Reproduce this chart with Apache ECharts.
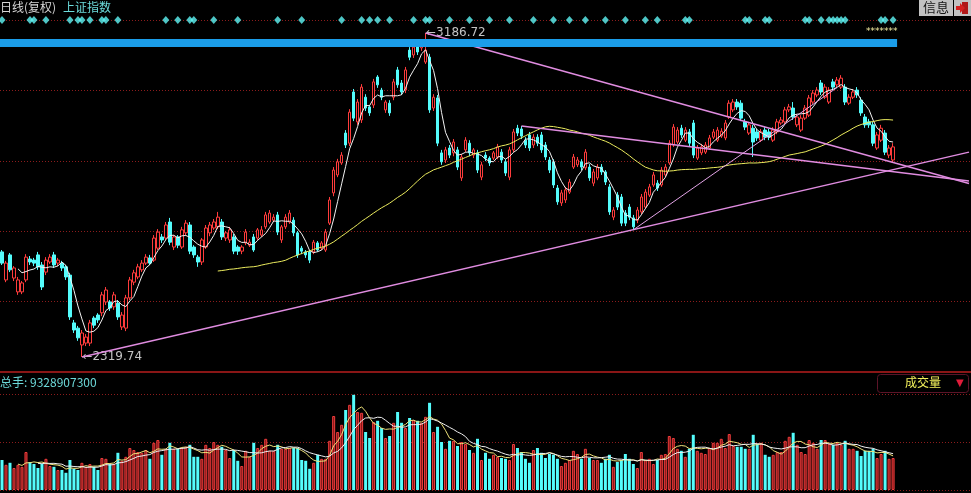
<!DOCTYPE html>
<html>
<head>
<meta charset="utf-8">
<script src="https://cdn.jsdelivr.net/npm/echarts@6/dist/echarts.min.js"></script>
<style>
  html, body { margin: 0; padding: 0; background: #000; }
  #chart { width: 971px; height: 493px; }
</style>
</head>
<body>
<div id="chart"></div>
<script>
// 上证指数 daily candles, 2010-06-01 .. 2011-05-06: [open, close, low, high]
const candles = [
  [2601,2571,2566,2606],[2526,2571,2520,2577],[2593,2553,2547,2598],[2531,2558,2523,2563],[2494,2526,2486,2534],
  [2494,2518,2488,2523],[2526,2587,2520,2595],[2582,2574,2566,2590],[2579,2571,2563,2585],[2593,2561,2553,2601],
  [2566,2507,2499,2574],[2547,2579,2539,2587],[2574,2587,2569,2595],[2593,2566,2558,2601],[2571,2579,2563,2585],
  [2571,2558,2550,2577],[2561,2534,2526,2566],[2539,2427,2419,2545],[2411,2392,2384,2419],[2397,2371,2363,2403],
  [2352,2384,2319.74,2392],[2357,2373,2349,2381],[2357,2411,2349,2419],[2424,2405,2397,2429],[2432,2419,2411,2437],
  [2438,2486,2429,2494],[2467,2499,2459,2507],[2467,2451,2443,2472],[2454,2486,2446,2494],[2464,2427,2419,2472],
  [2400,2432,2392,2440],[2397,2478,2389,2486],[2478,2526,2472,2534],[2520,2545,2512,2553],[2534,2561,2528,2569],
  [2553,2571,2547,2579],[2571,2587,2566,2595],[2585,2571,2566,2593],[2579,2638,2574,2646],[2611,2654,2606,2662],
  [2641,2633,2625,2649],[2638,2673,2633,2681],[2681,2627,2619,2692],[2614,2641,2606,2646],[2641,2619,2611,2646],
  [2614,2660,2609,2668],[2652,2678,2646,2686],[2673,2603,2595,2681],[2614,2593,2585,2619],[2587,2574,2561,2593],
  [2574,2633,2566,2638],[2614,2665,2609,2673],[2652,2673,2643,2681],[2665,2681,2660,2689],[2668,2694,2662,2708],
  [2681,2641,2633,2689],[2638,2652,2630,2657],[2633,2660,2625,2668],[2641,2603,2595,2649],[2614,2603,2593,2619],
  [2603,2614,2595,2619],[2625,2654,2619,2662],[2619,2627,2614,2635],[2641,2606,2601,2649],[2638,2660,2633,2665],
  [2646,2660,2641,2670],[2668,2700,2662,2708],[2681,2705,2676,2713],[2686,2694,2681,2702],[2700,2654,2646,2708],
  [2633,2668,2625,2673],[2668,2694,2662,2702],[2681,2705,2676,2713],[2686,2652,2643,2694],[2652,2593,2585,2657],
  [2611,2603,2595,2617],[2601,2593,2585,2606],[2601,2579,2571,2606],[2601,2627,2595,2633],[2625,2606,2601,2630],
  [2611,2625,2606,2630],[2606,2654,2601,2662],[2678,2740,2673,2748],[2759,2820,2750,2828],[2807,2842,2801,2850],
  [2839,2860,2834,2868],[2919,2887,2879,2927],[2892,2975,2884,2983],[3029,2959,2951,3037],[2949,3002,2941,3010],
  [2954,3042,2946,3050],[3015,2986,2978,3023],[2989,2973,2965,2994],[2994,3056,2986,3064],[3069,3048,3040,3074],
  [3034,3015,3007,3040],[2981,3002,2973,3007],[2999,2973,2965,3007],[3015,3056,3007,3064],[3088,3048,3040,3096],
  [3053,3029,3021,3061],[3034,3088,3026,3096],[3141,3122,3114,3149],[3128,3149,3120,3157],[3155,3136,3128,3163],
  [3147,3160,3139,3168],[3109,3141,3104,3186.72],[3122,2981,2973,3131],[2986,3015,2978,3023],[3013,2892,2884,3021],
  [2866,2842,2834,2874],[2847,2874,2839,2882],[2879,2860,2852,2887],[2866,2895,2857,2903],[2874,2828,2820,2882],
  [2799,2855,2791,2863],[2874,2900,2868,2908],[2892,2866,2857,2900],[2860,2874,2852,2879],[2866,2820,2812,2874],
  [2801,2834,2793,2842],[2860,2852,2844,2868],[2852,2839,2831,2857],[2852,2866,2847,2871],[2855,2882,2849,2890],
  [2868,2847,2839,2876],[2842,2812,2804,2849],[2801,2874,2793,2882],[2874,2922,2868,2930],[2932,2919,2911,2941],
  [2930,2911,2903,2938],[2900,2887,2879,2908],[2914,2879,2871,2922],[2887,2908,2879,2916],[2908,2892,2884,2916],
  [2914,2874,2866,2922],[2887,2855,2847,2895],[2847,2820,2812,2855],[2842,2780,2772,2849],[2772,2735,2727,2780],
  [2732,2759,2724,2767],[2740,2767,2732,2775],[2761,2788,2756,2796],[2828,2855,2823,2863],[2834,2847,2828,2855],
  [2842,2828,2820,2849],[2826,2868,2820,2876],[2828,2799,2791,2836],[2785,2815,2777,2823],[2799,2828,2793,2836],
  [2828,2815,2807,2836],[2815,2788,2780,2820],[2775,2708,2700,2783],[2694,2713,2686,2721],[2753,2721,2713,2761],
  [2748,2678,2670,2756],[2705,2678,2670,2713],[2721,2694,2686,2729],[2692,2668,2660,2700],[2686,2713,2678,2721],
  [2708,2748,2702,2756],[2721,2761,2716,2769],[2753,2775,2748,2783],[2780,2807,2775,2815],[2785,2772,2764,2793],
  [2780,2820,2775,2828],[2807,2828,2801,2836],[2839,2892,2834,2900],[2887,2935,2882,2943],[2895,2927,2890,2935],
  [2932,2914,2906,2941],[2900,2927,2895,2935],[2922,2892,2884,2930],[2946,2860,2852,2954],[2852,2879,2847,2887],
  [2866,2882,2860,2890],[2868,2887,2863,2895],[2879,2906,2874,2914],[2908,2922,2903,2930],[2900,2927,2895,2935],
  [2911,2924,2906,2932],[2906,2946,2900,2954],[2962,2999,2957,3007],[2981,3002,2975,3010],[3002,2989,2981,3010],
  [2999,2959,2951,3007],[2949,2935,2927,2957],[2919,2941,2914,2949],[2932,2895,2855,2941],[2922,2906,2898,2930],
  [2900,2922,2895,2930],[2927,2908,2900,2935],[2922,2908,2900,2930],[2900,2927,2895,2935],[2922,2949,2916,2957],
  [2946,2954,2941,2962],[2949,2981,2943,2989],[2981,2989,2975,2997],[2986,2962,2954,3002],[2941,2962,2935,2970],
  [2927,2959,2922,2967],[2959,2986,2954,2994],[2967,3013,2962,3021],[3002,3026,2997,3034],[3021,3034,3015,3042],
  [3053,3029,3021,3061],[3015,3042,3010,3050],[3002,3034,2997,3042],[3056,3042,3034,3064],[3048,3061,3042,3069],
  [3042,3066,3037,3074],[3042,3002,2994,3050],[2999,3015,2994,3023],[3015,3029,3010,3037],[3034,3021,3013,3042],
  [3007,2973,2965,3015],[2962,2941,2933,2970],[2949,2941,2933,2957],[2941,2892,2884,2949],[2879,2914,2874,2922],
  [2900,2932,2895,2941],[2919,2868,2860,2927],[2860,2879,2852,2887],[2847,2882,2839,2892]
];

// daily volume, 百万手
const volumes = [
  75,63,68,55,63,58,95,70,65,55,
  65,78,60,58,50,50,43,75,53,50,
  68,58,65,58,50,80,78,65,65,93,
  73,83,105,100,95,93,100,78,118,125,
  88,103,118,103,103,105,108,113,83,83,
  78,113,105,120,113,108,100,80,100,73,
  60,98,83,118,105,113,128,98,98,113,
  103,103,105,105,105,75,73,53,68,88,
  78,78,123,185,145,163,200,213,238,195,
  193,145,130,170,173,155,130,135,168,195,
  168,155,180,175,173,168,183,218,145,158,
  120,103,123,123,110,120,115,100,93,128,
  75,93,78,88,83,80,78,75,115,105,
  95,78,68,100,105,93,80,90,88,78,
  60,68,75,98,90,78,103,80,75,75,
  68,78,88,58,70,75,90,78,65,55,
  95,75,78,65,75,88,90,135,130,103,
  98,83,103,138,98,93,90,105,118,118,
  128,105,140,110,108,108,103,103,138,115,
  118,88,83,88,95,95,123,133,143,113,
  95,90,125,118,103,125,125,115,113,118,
  113,123,103,103,98,85,98,98,103,80,
  90,98,78,80
];

// days flagged by the signal row (candle index)
const signalDays = [0,7,8,11,17,19,20,22,25,26,29,41,44,47,48,53,59,69,75,85,90,92,94,97,103,106,107,112,117,
  122,127,133,138,142,146,151,156,161,164,171,172,186,187,191,192,201,202,205,207,208,209,210,211,220,221,223];

// hand-drawn trend lines: [day index, price] end points
const trendSupport = [[20, 2319.74], [242, 2868]];
const trendFromPeak = [[106, 3186.72], [242, 2784]];
const trendFromTop = [[130, 2938], [242, 2791]];
const trendFromLow = [[158, 2660], [209, 3041]];

const bandLevel = 3160;
const totalHands = '9328907300';
const priceMA = 5, trendMA = 55;
const volMAshort = 5, volMAlong = 10;
const blankDays = 19;

const closedDays = ['2010-06-14','2010-06-15','2010-06-16','2010-09-22','2010-09-23','2010-09-24',
  '2010-10-01','2010-10-04','2010-10-05','2010-10-06','2010-10-07','2011-01-03','2011-02-02','2011-02-03',
  '2011-02-04','2011-02-07','2011-02-08','2011-04-04','2011-04-05','2011-05-02','2011-06-06'];

function tradingDays(start, count) {
  const out = [];
  const d = new Date(start + 'T00:00:00Z');
  while (out.length < count) {
    const wd = d.getUTCDay();
    const s = d.toISOString().slice(0, 10);
    if (wd !== 0 && wd !== 6 && closedDays.indexOf(s) < 0) out.push(s);
    d.setUTCDate(d.getUTCDate() + 1);
  }
  return out;
}
const categories = tradingDays('2010-06-01', candles.length + blankDays);

function movingAverage(values, n) {
  return values.map((v, i) => {
    if (i < n - 1) return '-';
    let s = 0;
    for (let k = i - n + 1; k <= i; k++) s += values[k];
    return +(s / n).toFixed(2);
  });
}
const closes = candles.map(c => c[1]);

const UP = '#ff3c3c', DOWN = '#54fcfc';
const FONT = '"Noto Sans CJK SC", "DejaVu Sans", sans-serif';
const TREND = '#e08ce0';

const volumeData = volumes.map((v, i) => ({
  value: v,
  itemStyle: candles[i][1] >= candles[i][0]
    ? { color: '#7c1414', borderColor: '#ef3d3d', borderWidth: 1 }
    : { color: DOWN, borderColor: DOWN, borderWidth: 0 }
}));

function trend(points, color, width) {
  return {
    type: 'line', data: points, xAxisIndex: 0, yAxisIndex: 0,
    symbol: 'none', silent: true, z: 5,
    lineStyle: { color: color, width: width }
  };
}

const chart = echarts.init(document.getElementById('chart'), null, { renderer: 'canvas' });
chart.setOption({
  backgroundColor: '#000',
  animation: false,
  grid: [
    { left: 0, right: 0, top: 20, height: 352 },
    { left: 0, right: 0, top: 394, height: 96 }
  ],
  xAxis: [
    { type: 'category', gridIndex: 0, data: categories, boundaryGap: true,
      axisLine: { show: true, lineStyle: { color: '#8a1616', width: 2 } },
      axisTick: { show: false }, axisLabel: { show: false }, splitLine: { show: false } },
    { type: 'category', gridIndex: 1, data: categories, boundaryGap: true,
      axisLine: { show: false }, axisTick: { show: false }, axisLabel: { show: false }, splitLine: { show: false } }
  ],
  yAxis: [
    { type: 'value', gridIndex: 0, min: 2279.6, max: 3221.6, show: false },
    { type: 'value', gridIndex: 0, min: 0, max: 5, interval: 1, position: 'right',
      axisLine: { show: false }, axisTick: { show: false }, axisLabel: { show: false },
      splitLine: { show: true, lineStyle: { color: '#8c1c1c', type: [1, 2], width: 1 } } },
    { type: 'value', gridIndex: 1, min: 0, max: 240, interval: 120,
      axisLine: { show: false }, axisTick: { show: false }, axisLabel: { show: false },
      splitLine: { show: true, lineStyle: { color: '#8c1c1c', type: [1, 2], width: 1 } } }
  ],
  series: [
    {
      name: '日线', type: 'candlestick', data: candles, xAxisIndex: 0, yAxisIndex: 0,
      barWidth: 3, z: 3,
      itemStyle: { color: '#000', color0: DOWN, borderColor: UP, borderColor0: DOWN, borderWidth: 1 },
      markPoint: {
        symbol: 'circle', symbolSize: 1,
        itemStyle: { color: 'rgba(0,0,0,0)' },
        label: {
          show: true, position: 'right', distance: 0,
          color: '#c4c4c4', fontSize: 12, fontFamily: '"DejaVu Sans", sans-serif',
          formatter: p => '\u2190' + Number(p.value).toFixed(2)
        },
        data: [
          { type: 'max', valueDim: 'highest' },
          { type: 'min', valueDim: 'lowest' }
        ]
      }
    },
    { name: 'MA5', type: 'line', data: movingAverage(closes, priceMA), xAxisIndex: 0, yAxisIndex: 0,
      symbol: 'none', z: 4, lineStyle: { color: '#f2f2f2', width: 1 } },
    { name: 'MA55', type: 'line', data: movingAverage(closes, trendMA), xAxisIndex: 0, yAxisIndex: 0,
      symbol: 'none', z: 4, lineStyle: { color: '#ecec5e', width: 1 } },
    trend(trendSupport, TREND, 1.5),
    trend(trendFromPeak, TREND, 1.5),
    trend(trendFromTop, TREND, 1.5),
    trend(trendFromLow, '#e2a4e6', 1),
    {
      name: 'band', type: 'line', data: [[0, bandLevel], [candles.length - 1, bandLevel]],
      xAxisIndex: 0, yAxisIndex: 0, symbol: 'none', silent: true, z: 6,
      lineStyle: { color: '#1b9de9', width: 8, cap: 'square' }
    },
    {
      name: 'signal', type: 'scatter', data: signalDays.map(d => [d, 5]),
      xAxisIndex: 0, yAxisIndex: 1, symbol: 'diamond', symbolSize: [7, 8], clip: false, z: 6,
      itemStyle: { color: '#5ff6f6' }
    },
    {
      name: '成交量', type: 'bar', data: volumeData, xAxisIndex: 1, yAxisIndex: 2, barWidth: 3, z: 3
    },
    { name: 'VOL5', type: 'line', data: movingAverage(volumes, volMAshort), xAxisIndex: 1, yAxisIndex: 2,
      symbol: 'none', z: 4, lineStyle: { color: '#eee27a', width: 1 } },
    { name: 'VOL10', type: 'line', data: movingAverage(volumes, volMAlong), xAxisIndex: 1, yAxisIndex: 2,
      symbol: 'none', z: 4, lineStyle: { color: '#f0f0f0', width: 1 } }
  ],
  graphic: [
    { type: 'text', left: 0, top: 1, z: 10,
      style: { text: '日线(复权)', fill: '#d6d6d6', fontSize: 12, fontFamily: FONT } },
    { type: 'text', left: 63, top: 1, z: 10,
      style: { text: '上证指数', fill: '#6cdcdc', fontSize: 12, fontFamily: FONT } },
    { type: 'rect', left: 919, top: 0, z: 10, shape: { width: 34, height: 16 }, style: { fill: '#c2c2c2' } },
    { type: 'text', left: 923, top: 1, z: 11,
      style: { text: '信息', fill: '#151515', fontSize: 13, fontFamily: FONT } },
    { type: 'rect', left: 954, top: 0, z: 10, shape: { width: 17, height: 16 }, style: { fill: '#c2c2c2' } },
    { type: 'rect', left: 962, top: 2, z: 11, shape: { width: 6, height: 12 }, style: { fill: '#b01818' } },
    { type: 'polygon', z: 12, shape: { points: [[956, 6], [960, 6], [960, 3], [965, 8], [960, 13], [960, 10], [956, 10]] },
      style: { fill: '#d42020' } },
    { type: 'text', left: 866, top: 27, z: 10,
      style: { text: '*******', fill: '#f3eca0', fontSize: 9, fontFamily: '"DejaVu Sans", sans-serif' } },
    { type: 'text', left: 0, top: 376, z: 10,
      style: { text: '总手: ' + totalHands, fill: '#6cd8d8', fontSize: 12, fontFamily: FONT } },
    { type: 'rect', left: 877, top: 374, z: 10, shape: { width: 91, height: 18, r: 3 },
      style: { fill: '#000', stroke: '#5c1428', lineWidth: 1 } },
    { type: 'text', left: 905, top: 376, z: 11,
      style: { text: '成交量', fill: '#f4f25c', fontSize: 12, fontFamily: FONT } },
    { type: 'text', left: 956, top: 378, z: 11,
      style: { text: '\u25BC', fill: '#e01c3a', fontSize: 10, fontFamily: '"DejaVu Sans", sans-serif' } }
  ]
});
</script>
</body>
</html>
